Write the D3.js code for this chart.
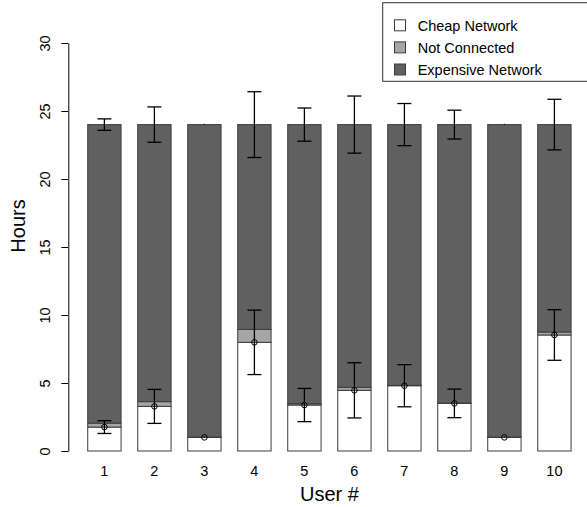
<!DOCTYPE html>
<html>
<head>
<meta charset="utf-8">
<script src="https://cdnjs.cloudflare.com/ajax/libs/d3/7.8.5/d3.min.js"></script>
<style>
  body { margin: 0; background: #fff; }
  svg { display: block; font-family: "Liberation Sans", Arial, Helvetica, sans-serif; }
</style>
</head>
<body>
<div id="chart"></div>
<script>
// values (hours per day)
var users = ["1", "2", "3", "4", "5", "6", "7", "8", "9", "10"];
var cheap = [1.76, 3.28, 1.0, 7.99, 3.38, 4.46, 4.8, 3.5, 1.0, 8.53];
var notConnected = [0.29, 0.35, 0.02, 0.95, 0.1, 0.22, 0.03, 0.02, 0.02, 0.22];
var expensive = [21.95, 20.37, 22.98, 15.06, 20.52, 19.32, 19.17, 20.48, 22.98, 15.25];
var cheapSd = [0.47, 1.25, 0, 2.37, 1.22, 2.03, 1.55, 1.05, 0, 1.86];
var totalSd = [0.42, 1.3, 0, 2.42, 1.22, 2.1, 1.55, 1.06, 0, 1.86];
var yTicks = [0, 5, 10, 15, 20, 25, 30];
var seriesNames = ["Cheap Network", "Not Connected", "Expensive Network"];
var seriesColors = ["#ffffff", "#a6a6a6", "#606060"];

var width = 587, height = 507;

var svg = d3.select("#chart").append("svg")
    .attr("width", width)
    .attr("height", height);

var x = d3.scaleBand()
    .domain(users)
    .range([79.4, 579.4])
    .paddingInner(1 / 3)
    .paddingOuter(1 / 6);

var y = d3.scaleLinear()
    .domain([0, 30])
    .range([451, 43]);

// stacked bars
var rows = users.map(function (u, i) {
    return {user: u, cheap: cheap[i], nc: notConnected[i], exp: expensive[i]};
});
var stack = d3.stack().keys(["cheap", "nc", "exp"]);
var layers = stack(rows);

svg.selectAll("g.layer")
    .data(layers)
    .enter()
    .append("g")
    .attr("class", "layer")
    .attr("fill", function (d, i) { return seriesColors[i]; })
    .selectAll("rect")
    .data(function (d) { return d; })
    .enter()
    .append("rect")
    .attr("x", function (d) { return x(d.data.user); })
    .attr("y", function (d) { return y(d[1]); })
    .attr("width", x.bandwidth())
    .attr("height", function (d) { return y(d[0]) - y(d[1]); })
    .attr("stroke", "#3c3c3c")
    .attr("stroke-width", 1);

// error bars
function errorBar(cx, mid, sd) {
    var g = svg.append("g").attr("stroke", "#000").attr("stroke-width", 1.3);
    g.append("line")
        .attr("x1", cx).attr("x2", cx)
        .attr("y1", y(mid - sd)).attr("y2", y(mid + sd) - (sd === 0 ? 0.8 : 0));
    if (sd > 0) {
        [mid - sd, mid + sd].forEach(function (v) {
            g.append("line")
                .attr("x1", cx - 7).attr("x2", cx + 7)
                .attr("y1", y(v)).attr("y2", y(v));
        });
    }
}

users.forEach(function (u, i) {
    var cx = x(u) + x.bandwidth() / 2;
    var total = cheap[i] + notConnected[i] + expensive[i];
    errorBar(cx, cheap[i], cheapSd[i]);
    errorBar(cx, total, totalSd[i]);
});

svg.selectAll("circle.mean")
    .data(users)
    .enter()
    .append("circle")
    .attr("class", "mean")
    .attr("cx", function (d) { return x(d) + x.bandwidth() / 2; })
    .attr("cy", function (d, i) { return y(cheap[i]); })
    .attr("r", 2.8)
    .attr("fill", "none")
    .attr("stroke", "#000")
    .attr("stroke-width", 1);

// y axis, R style
var yAxis = svg.append("g")
    .attr("transform", "translate(68.3,0)")
    .call(d3.axisLeft(y).tickValues(yTicks).tickSize(7).tickSizeOuter(0));
yAxis.select(".domain").attr("stroke", "#000");
yAxis.selectAll(".tick line").attr("stroke", "#000");
yAxis.selectAll(".tick text")
    .attr("font-size", "14.5px")
    .attr("font-family", "Liberation Sans, Arial, sans-serif")
    .attr("fill", "#000")
    .attr("text-anchor", "middle")
    .attr("x", 0)
    .attr("dy", 0)
    .attr("transform", "translate(-18.3,0) rotate(-90)");

// bar names
svg.selectAll("text.name")
    .data(users)
    .enter()
    .append("text")
    .attr("class", "name")
    .attr("x", function (d) { return x(d) + x.bandwidth() / 2; })
    .attr("y", 475.5)
    .attr("text-anchor", "middle")
    .attr("font-size", "14.5px")
    .text(function (d) { return d; });

// axis titles
svg.append("text")
    .attr("x", 329.5)
    .attr("y", 501)
    .attr("text-anchor", "middle")
    .attr("font-size", "20px")
    .text("User #");

svg.append("text")
    .attr("transform", "translate(25,226) rotate(-90)")
    .attr("text-anchor", "middle")
    .attr("font-size", "20px")
    .text("Hours");

// legend
var legend = svg.append("g");
legend.append("rect")
    .attr("x", 382.7)
    .attr("y", 2.7)
    .attr("width", 220)
    .attr("height", 78.6)
    .attr("fill", "#fff")
    .attr("stroke", "#333")
    .attr("stroke-width", 1);

seriesNames.forEach(function (name, i) {
    var cy = 25.3 + i * 22.1;
    legend.append("rect")
        .attr("x", 394.5)
        .attr("y", cy - 5.5)
        .attr("width", 11)
        .attr("height", 11)
        .attr("fill", seriesColors[i])
        .attr("stroke", "#3c3c3c");
    legend.append("text")
        .attr("x", 417.7)
        .attr("y", cy + 5.2)
        .attr("font-size", "14.5px")
        .text(name);
});
</script>
</body>
</html>
